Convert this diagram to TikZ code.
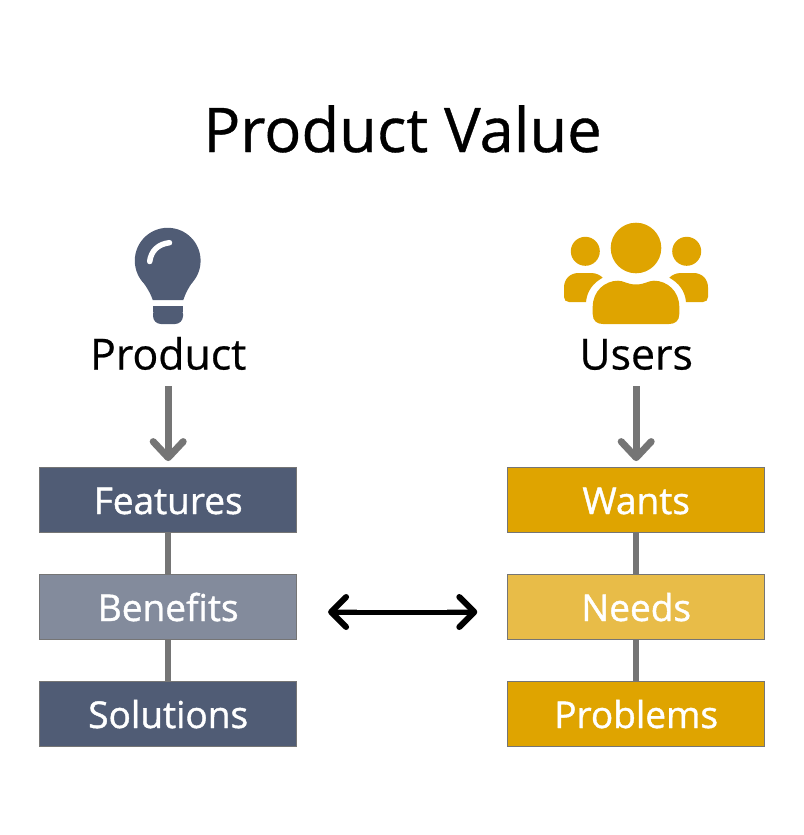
\documentclass[tikz,border=0pt]{standalone}
\usepackage{fontspec}
\setmainfont{Open Sans}
\newfontfamily\mediumfont[FakeBold=0.6]{Open Sans}
\newfontfamily\semifont[FakeBold=1.1]{Open Sans}
\usetikzlibrary{arrows.meta}
\begin{document}
\begin{tikzpicture}
  [x=1pt,y=-1pt,line cap=round,
   % Styles
   title text/.style={anchor=base,inner sep=0pt,font=\mediumfont\fontsize{61.6}{62}\selectfont},
   head text/.style={inner sep=0pt,text height=30pt,text depth=9pt,font=\mediumfont\fontsize{42.8}{43}\selectfont},
   box/.style={draw=linkcolor,line width=.8pt,minimum width=257pt,minimum height=65pt,
     inner sep=0pt,text height=28pt,text depth=0pt,text=white,font=\semifont\fontsize{37}{38}\selectfont},
   link/.style={draw=linkcolor,line width=6.5pt,line cap=butt},
   down arrow/.style={link,line width=7pt,shorten <=7.5pt,shorten >=6pt,
     -{Straight Barb[length=16pt,width=30pt,line width=7pt,round]}},
   both arrow/.style={black,line width=5pt,shorten <=31pt,shorten >=30pt,
     {Straight Barb[length=15pt,width=30pt,line width=6pt,round]}-{Straight Barb[length=15pt,width=30pt,line width=6pt,round]}},
   arrow shade/.style={draw=black!35,line width=6.7pt,line cap=butt}]

  % Colors
  \definecolor{slatecolor}{HTML}{505C75}
  \definecolor{lightslatecolor}{HTML}{838B9C}
  \definecolor{goldcolor}{HTML}{DFA400}
  \definecolor{lightgoldcolor}{HTML}{E8BC48}
  \definecolor{linkcolor}{HTML}{757575}

  \useasboundingbox (0,0) rectangle (803,835);

  % The title
  \node[title text] (title) at (402.5,152) {Product Value};

  % The bulb
  \fill[slatecolor] (167.7,260.7) circle (32.9pt);
  \fill[slatecolor] (152.7,300) .. controls (150.5,293) and (146,286) .. (139.5,277)
    -- (195.9,277) .. controls (189.4,286) and (185.5,293) .. (183.3,300) -- cycle;
  \fill[slatecolor,rounded corners=8pt] (153,306) -- (153,324) -- (183,324) -- (183,306) -- cycle;
  \fill[slatecolor] (153,306) rectangle (183,312);
  \draw[white,line width=5.5pt] (149.7,261.5) .. controls (151,251) and (158,244) .. (169.5,242.7);

  % The users
  \fill[goldcolor] (636,248) circle (25.3pt);
  \fill[goldcolor] (592.7,314) .. controls (592.7,321) and (597,324) .. (603,324)
    -- (669,324) .. controls (675,324) and (679.3,321) .. (679.3,314)
    -- (679.3,307) .. controls (679.3,291) and (667,280.7) .. (654,280.7)
    .. controls (648,280.7) and (645,284.5) .. (636,284.5)
    .. controls (627,284.5) and (624,280.7) .. (618,280.7)
    .. controls (605,280.7) and (592.7,291) .. (592.7,307) -- cycle;
  \foreach \side in {1,-1}
  {
    \begin{scope}[shift={(636,0)},xscale=\side]
      \fill[goldcolor] (-50.7,251.3) circle (14.5pt);
      \fill[goldcolor] (-50,302) -- (-67,302) .. controls (-70,302) and (-72,300) .. (-72,297)
        -- (-72,287.5) .. controls (-72,279) and (-66,273) .. (-57.5,273)
        -- (-45,273) .. controls (-40,273) and (-36,275) .. (-33.3,277.7)
        .. controls (-43,283) and (-49,291) .. (-50,302) -- cycle;
    \end{scope}
  }

  % The labels
  \node[head text] (product) at (168.2,359) {Product};
  \node[head text] (users) at (636.2,359) {Users};

  % The boxes
  \foreach \boxname/\boxtext/\x/\y/\boxcolor in
    {features/Features/168.2/500/slatecolor, benefits/Benefits/168.2/607/lightslatecolor,
     solutions/Solutions/168.2/714/slatecolor, wants/Wants/636.2/500/goldcolor,
     needs/Needs/636.2/607/lightgoldcolor, problems/Problems/636.2/714/goldcolor}
    \node[box,fill=\boxcolor] (\boxname) at (\x,\y) {\boxtext};

  % The connectors
  \draw[down arrow] (product) -- (features);
  \draw[down arrow] (users) -- (wants);
  \foreach \from/\to in {features/benefits, benefits/solutions, wants/needs, needs/problems}
    \draw[link] (\from) -- (\to);
  \draw[arrow shade,shorten <=38pt,shorten >=150pt] ([yshift=-5pt]benefits.east) -- ([yshift=-5pt]needs.west);
  \draw[arrow shade,shorten <=150pt,shorten >=37pt] ([yshift=-5pt]benefits.east) -- ([yshift=-5pt]needs.west);
  \draw[both arrow] ([yshift=-5pt]benefits.east) -- ([yshift=-5pt]needs.west);
\end{tikzpicture}
\end{document}
